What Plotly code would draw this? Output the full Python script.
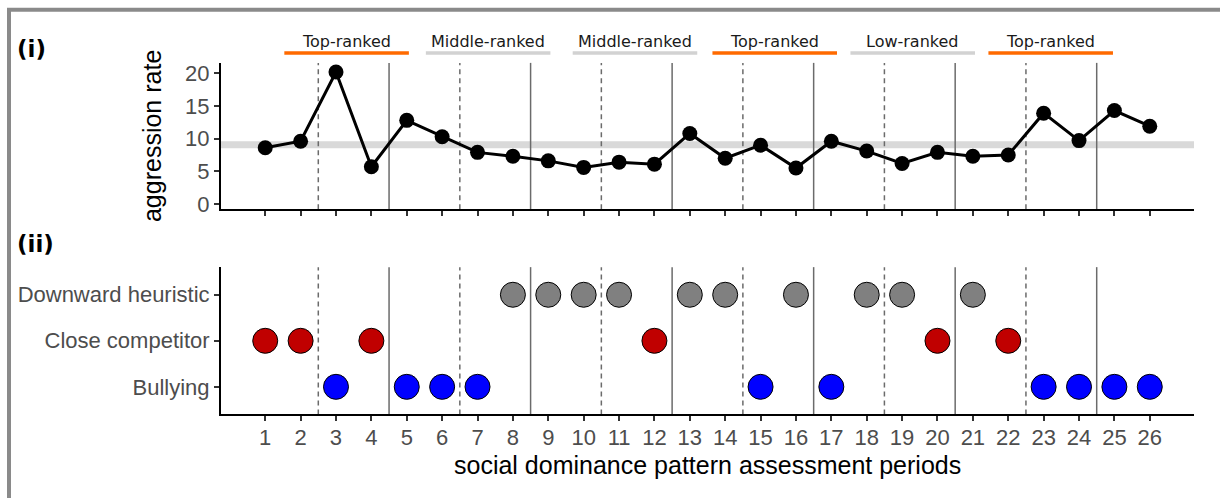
import plotly.graph_objects as go

# ---- data ---------------------------------------------------------------
periods = list(range(1, 27))
aggression_rate = [8.6, 9.6, 20.2, 5.7, 12.8, 10.3, 7.9, 7.3, 6.6, 5.6,
                   6.4, 6.1, 10.8, 7.0, 9.0, 5.5, 9.6, 8.1, 6.2, 7.9,
                   7.3, 7.5, 13.9, 9.7, 14.3, 11.9]

strategy_names = ["Bullying", "Close competitor", "Downward heuristic"]
downward_periods = [8, 9, 10, 11, 13, 14, 16, 18, 19, 21]
close_periods = [1, 2, 4, 12, 20, 22]
bullying_periods = [3, 5, 6, 7, 15, 17, 23, 24, 25, 26]

rank_labels = ["Top-ranked", "Middle-ranked", "Middle-ranked",
               "Top-ranked", "Low-ranked", "Top-ranked"]
rank_centers = [3.3, 7.3, 11.45, 15.4, 19.3, 23.2]
rank_half_width = 1.76

dashed_breaks = [2.5, 6.5, 10.5, 14.5, 18.5, 22.5]
solid_breaks = [4.5, 8.5, 12.5, 16.5, 20.5, 24.5]

# ---- page geometry (pixels) --------------------------------------------
W, H = 1220, 500
PX_LEFT, PX_RIGHT = 221, 1194
TOP_PANEL = (62, 211)
BOT_PANEL = (270, 420)


def px_x(p):
    return p / W


def px_y(p):
    return 1 - p / H


x_dom = [px_x(PX_LEFT), px_x(PX_RIGHT)]
y1_dom = [px_y(TOP_PANEL[1]), px_y(TOP_PANEL[0])]
y2_dom = [px_y(BOT_PANEL[1]), px_y(BOT_PANEL[0])]
x_range = [-0.25, 27.25]

AXIS_FONT = "Liberation Sans, Arial, sans-serif"
TICK_COLOR = "#4d4d4d"
LINE_GRAY = "#6b6b6b"

fig = go.Figure()

# ---- panel (i): aggression rate -----------------------------------------
fig.add_trace(go.Scatter(
    x=periods, y=aggression_rate, mode="lines+markers",
    line=dict(color="black", width=3),
    marker=dict(color="black", size=15),
    xaxis="x", yaxis="y", showlegend=False, hoverinfo="x+y",
))

# ---- panel (ii): strategy per period ------------------------------------
strategy_sets = [
    (bullying_periods, "Bullying", "#0000ff"),
    (close_periods, "Close competitor", "#c00000"),
    (downward_periods, "Downward heuristic", "#808080"),
]
for xs, name, col in strategy_sets:
    fig.add_trace(go.Scatter(
        x=xs, y=[name] * len(xs), mode="markers", name=name,
        marker=dict(color=col, size=25, line=dict(color="black", width=1)),
        xaxis="x2", yaxis="y2", showlegend=False, cliponaxis=False,
    ))

shapes = []

# mean aggression band
mean_rate = sum(aggression_rate) / len(aggression_rate)
shapes.append(dict(
    type="rect", xref="x domain", yref="y", x0=0, x1=1,
    y0=mean_rate - 0.55, y1=mean_rate + 0.55,
    fillcolor="#d9d9d9", line=dict(width=0), layer="below",
))

# period separators in both panels
for yref in ["y domain", "y2 domain"]:
    xref = "x" if yref == "y domain" else "x2"
    for b in dashed_breaks:
        shapes.append(dict(type="line", xref=xref, yref=yref, x0=b, x1=b,
                           y0=0, y1=1, layer="below",
                           line=dict(color=LINE_GRAY, width=1.5, dash="5px,4px")))
    for b in solid_breaks:
        shapes.append(dict(type="line", xref=xref, yref=yref, x0=b, x1=b,
                           y0=0, y1=1, layer="below",
                           line=dict(color=LINE_GRAY, width=1.5)))

# rank underlines
annotations = []
for lab, c in zip(rank_labels, rank_centers):
    col = "#ff6a00" if lab.startswith("Top") else "#d2d2d2"
    shapes.append(dict(type="line", xref="x", yref="paper",
                       x0=c - rank_half_width, x1=c + rank_half_width,
                       y0=px_y(52), y1=px_y(52),
                       line=dict(color=col, width=3.5)))
    annotations.append(dict(
        text=lab, x=c, xref="x", y=px_y(40), yref="paper",
        showarrow=False, xanchor="center", yanchor="middle",
        font=dict(family="DejaVu Sans, sans-serif", size=16, color="#1a1a1a"),
    ))

# outer frame (top and left edges)
shapes.append(dict(type="line", xref="paper", yref="paper",
                   x0=px_x(7), x1=1.01, y0=px_y(8), y1=px_y(8),
                   line=dict(color="#8a8a8a", width=4)))
shapes.append(dict(type="line", xref="paper", yref="paper",
                   x0=px_x(9), x1=px_x(9), y0=px_y(6), y1=-0.01,
                   line=dict(color="#8a8a8a", width=4)))

# panel tags
for tag, yc in [("(i)", 48), ("(ii)", 246)]:
    annotations.append(dict(
        text="<b>" + tag + "</b>", x=px_x(15), xref="paper", y=px_y(yc),
        yref="paper", showarrow=False, xanchor="left", yanchor="middle",
        font=dict(family="DejaVu Sans, sans-serif", size=23, color="black"),
    ))

# axis titles
annotations.append(dict(
    text="aggression rate", x=px_x(152), xref="paper",
    y=px_y((TOP_PANEL[0] + TOP_PANEL[1]) / 2), yref="paper",
    textangle=-90, showarrow=False, xanchor="center", yanchor="middle",
    font=dict(family=AXIS_FONT, size=25, color="black"),
))
annotations.append(dict(
    text="social dominance pattern assessment periods",
    x=px_x((PX_LEFT + PX_RIGHT) / 2), xref="paper", y=px_y(471), yref="paper",
    showarrow=False, xanchor="center", yanchor="middle",
    font=dict(family=AXIS_FONT, size=25, color="black"),
))

axis_common = dict(
    showgrid=False, zeroline=False, showline=True, linecolor="black",
    linewidth=2, ticks="outside", ticklen=5, tickwidth=1.5, tickcolor="#333333",
    tickfont=dict(family=AXIS_FONT, size=22, color=TICK_COLOR),
)

fig.update_layout(
    width=W, height=H, margin=dict(l=0, r=0, t=0, b=0),
    paper_bgcolor="white", plot_bgcolor="white",
    xaxis=dict(domain=x_dom, range=x_range, anchor="y", tickvals=periods,
               showticklabels=False, **axis_common),
    yaxis=dict(domain=y1_dom, range=[-0.8, 21.6], anchor="x",
               tickvals=[0, 5, 10, 15, 20], **axis_common),
    xaxis2=dict(domain=x_dom, range=x_range, anchor="y2", tickvals=periods,
                ticklabelstandoff=-3, **axis_common),
    yaxis2=dict(domain=y2_dom, range=[-0.6, 2.6], anchor="x2",
                type="category", categoryorder="array",
                categoryarray=strategy_names, **axis_common),
    shapes=shapes,
    annotations=annotations,
)

fig.write_html("out.html")
